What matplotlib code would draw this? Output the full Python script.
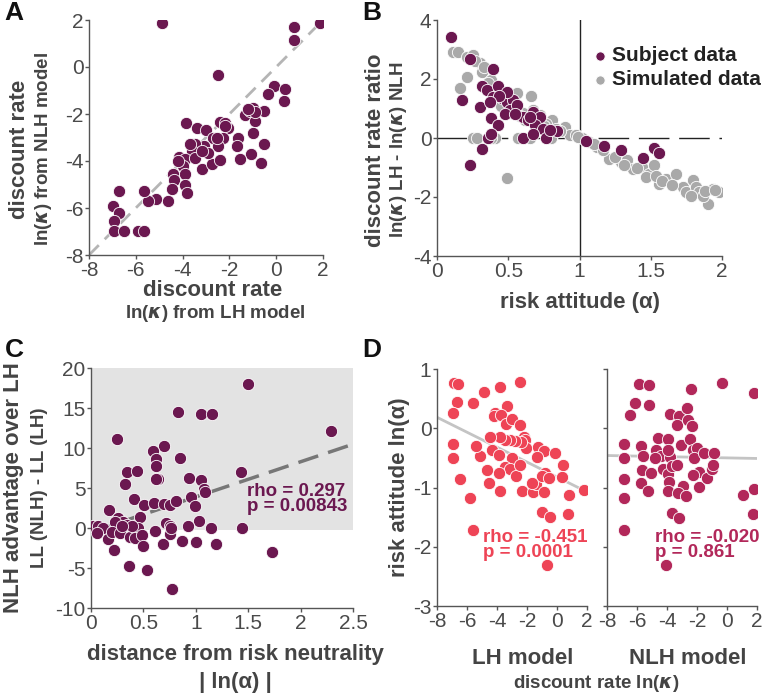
import numpy as np
import matplotlib.pyplot as plt

plt.rcParams['font.family'] = ['Liberation Sans', 'DejaVu Sans']
plt.rcParams['axes.unicode_minus'] = False
plt.rcParams['mathtext.fontset'] = 'dejavusans'

# colours
PURPLE = '#6b1850'
GREY_SIM = '#a9a9a9'
RED = '#ee4456'
CRIMSON = '#b2285a'
TXT = '#444444'

# ---- panel A: ln(k) LH vs ln(k) NLH ----
a_lh = [-4.88, 1.87, 0.76, 0.76, -2.50, -0.09, 0.38, -0.36, 0.32, -0.52, -0.98,
        -1.33, -0.91, -1.12, -1.00, -0.52, -0.66, -1.08, -1.55, -1.62, -1.69,
        -3.85, -3.37, -3.00, -2.69, -2.40, -2.19, -2.05, -2.26, -2.47, -2.52,
        -3.09, -3.47, -3.61, -4.14, -3.90, -3.47, -3.19, -2.76, -2.40, -2.93,
        -3.97, -3.90, -4.40, -4.35, -4.47, -3.90, -3.83, -4.61, -5.15, -5.46,
        -5.64, -6.70, -6.96, -6.70, -6.93, -6.93, -6.49, -5.92, -5.64, -0.91,
        -1.22, -2.19, -3.69, -3.19, -4.18]
a_nlh = [1.86, 1.89, 1.71, 1.14, -0.33, -0.79, -0.93, -1.14, -1.43, -1.89, -1.74,
         -2.03, -2.29, -1.89, -2.79, -3.29, -4.10, -3.71, -3.90, -3.00, -3.36,
         -2.40, -2.61, -2.67, -3.03, -2.36, -2.39, -2.60, -3.00, -3.36, -3.00,
         -3.36, -3.29, -3.57, -3.81, -3.93, -3.86, -4.36, -4.14, -3.97, -3.64,
         -4.21, -4.57, -4.57, -4.79, -5.21, -5.00, -5.36, -5.71, -5.61, -5.71,
         -5.26, -5.29, -5.93, -6.21, -6.57, -6.96, -6.96, -6.96, -6.96, -1.93,
         -1.79, -2.53, -3.29, -3.57, -4.00]

# ---- panel B: risk attitude vs discount rate ratio ----
b_subj_alpha = [0.096, 0.231, 0.394, 0.175, 0.231, 0.317, 0.355, 0.301, 0.378,
                0.425, 0.313, 0.348, 0.425, 0.394, 0.453, 0.492, 0.534, 0.511,
                0.476, 0.488, 0.600, 0.640, 0.674, 0.720, 0.686, 0.745, 0.768,
                0.604, 0.845, 0.674, 1.048, 1.171, 1.293, 1.444, 1.526, 1.557,
                0.436, 0.558, 0.651, 0.790, 0.546, 0.371, 0.378]
b_subj_ratio = [3.44, 2.68, 2.34, 1.30, -0.93, -0.36, 0.00, 1.05, 0.68, 0.43,
                1.76, 1.62, 1.76, 1.39, 1.34, 1.22, 1.30, 0.94, 0.83, 1.56,
                0.71, 0.60, 0.88, 0.71, 0.43, 0.32, 0.00, 0.00, 0.24, 0.15,
                -0.10, -0.27, -0.39, -0.68, -0.34, -0.50, 1.42, 1.11, 0.71,
                0.26, 0.83, 1.22, 0.15]
b_sim_alpha = [0.11, 0.15, 0.21, 0.254, 0.30, 0.313, 0.21, 0.161, 0.378, 0.25,
               0.28, 0.41, 0.38, 0.57, 0.65, 0.80, 0.488, 0.658, 0.674, 0.81,
               0.896, 0.93, 0.978, 1.02, 1.12, 1.21, 1.29, 1.33, 1.375, 1.44,
               1.49, 1.526, 1.56, 1.61, 1.68, 1.724, 1.75, 1.795, 1.82, 1.84,
               1.90, 1.935, 1.98, 1.865, 1.47, 1.246, 1.165, 1.07, 0.838, 0.768,
               0.72, 0.511, 0.558, 0.418, 0.464, 0.27, 0.33, 0.36, 0.60, 0.62,
               0.70, 0.75, 0.86, 0.99, 1.10, 1.31, 1.40, 1.54, 1.58, 1.65,
               1.78, 1.88, 1.95, 0.45, 0.52, 0.58]
b_sim_ratio = [2.93, 2.93, 2.76, 2.81, 2.53, 2.24, 2.07, 1.71, 1.96, 0.00,
               0.00, 0.00, 0.00, 0.00, 0.00, 0.00, -1.36, 1.42, 0.94, 0.60,
               0.37, 0.09, 0.09, 0.00, -0.31, -0.70, -0.82, -0.76, -1.04, -0.99,
               -1.21, -0.93, -1.55, -1.38, -1.21, -1.67, -1.84, -1.44, -1.67,
               -1.84, -2.23, -1.72, -1.84, -1.95, -1.33, -0.65, -0.42, -0.14,
               0.32, 0.49, 0.77, 0.94, 1.51, 1.62, 1.28, 2.60, 2.40, 1.85, 0.85,
               0.60, 0.55, 0.40, 0.25, 0.05, -0.20, -0.90, -1.00, -1.30, -1.45,
               -1.60, -1.95, -1.80, -1.75, 1.10, 0.95, 0.75]

# ---- panel C: |ln(alpha)| vs LL advantage ----
c_dist = [1.497, 2.293, 0.834, 1.048, 1.153, 0.252, 0.700, 0.596, 0.621, 0.621,
          0.850, 0.341, 0.436, 0.643, 0.621, 0.325, 0.936, 1.051, 1.083, 1.090,
          1.430, 0.955, 0.411, 0.994, 0.510, 0.600, 0.700, 0.755, 0.812, 1.035,
          1.440, 1.143, 0.175, 0.261, 0.310, 0.468, 0.452, 0.341, 0.229, 0.022,
          0.070, 0.118, 0.054, 0.160, 0.197, 0.280, 0.373, 0.420, 0.490, 0.500,
          0.611, 0.690, 0.720, 0.755, 0.750, 0.764, 0.924, 0.866, 1.000, 1.190,
          0.223, 0.366, 0.532, 0.777, 1.726, 0.390, 0.293]
c_ll = [18.0, 12.1, 14.5, 14.25, 14.2, 11.1, 10.2, 9.6, 8.6, 7.7, 8.8, 7.0, 7.1,
        6.1, 6.1, 5.5, 6.2, 6.0, 4.9, 4.5, 7.0, 3.9, 3.6, 2.8, 2.9, 3.1, 3.0,
        2.9, 3.4, 0.9, 0.04, 0.04, 2.2, 1.25, 0.8, 1.4, 0.04, 0.4, 0.8, 0.2,
        0.2, 0.0, -0.6, -1.4, -0.5, -0.6, -1.1, -1.3, -0.9, -2.25, -0.4, -2.0,
        0.6, 0.2, -0.8, 0.0, 0.3, -1.6, -1.8, -2.0, -2.8, -4.8, -5.2, -7.6,
        -3.0, 0.2, 0.2]

# ---- panel D: ln(k) vs ln(alpha), LH and NLH models ----
d_lh_k = [-6.89, -6.62, -4.84, -3.82, -2.49, -6.67, -5.60, -6.93, -3.33, -4.16,
          -4.22, -3.73, -3.38, -3.00, -2.44, -2.22, -2.16, -2.04, -2.40, -2.78,
          -3.11, -3.44, -3.78, -4.44, -4.33, -3.89, -3.00, -3.44, -3.11, -2.71,
          -2.44, -3.89, -4.56, -4.67, -5.11, -5.40, -6.93, -6.93, -6.44, -5.82,
          -3.82, -2.33, -1.60, -1.38, -1.29, -0.89, -0.11, -1.33, -0.78, -1.00,
          -0.56, -0.89, -1.67, 0.40, 0.33, 0.78, 1.82, -1.00, -0.49, 0.73,
          -5.60, -0.67]
d_lh_a = [0.77, 0.75, 0.61, 0.69, 0.78, 0.44, 0.42, 0.25, 0.38, 0.26, 0.20,
          0.22, 0.08, 0.15, 0.06, -0.15, -0.19, -0.34, -0.24, -0.22, -0.20,
          -0.19, -0.15, -0.15, -0.37, -0.45, -0.51, -0.65, -0.69, -0.80, -0.62,
          -0.75, -0.93, -0.70, -0.47, -0.30, -0.27, -0.51, -0.85, -1.18, -1.06,
          -1.06, -1.07, -0.94, -0.32, -0.39, -0.41, -0.49, -0.75, -0.81, -0.84,
          -1.08, -0.93, -0.62, -0.83, -1.13, -1.04, -1.42, -1.50, -1.44, -1.72,
          -2.30]
d_nlh_k = [-5.88, -5.21, -2.40, -0.35, 1.80, -6.16, -5.21, -6.50, -3.80, -3.22,
           -2.69, -3.33, -2.62, -2.33, -6.89, -6.89, -6.89, -6.89, -6.89, -5.72,
           -5.61, -5.65, -5.05, -5.72, -5.27, -4.72, -4.61, -4.39, -4.27, -3.94,
           -3.79, -3.94, -3.87, -3.94, -3.65, -3.34, -3.05, -2.94, -3.25, -2.76,
           -2.49, -2.27, -2.02, -2.18, -1.85, -1.85, -1.36, -1.52, -1.00, -0.85,
           -0.96, -2.27, -3.65, -3.20, -4.07, 1.07, 1.80, 1.70, -3.94, -4.83]
d_nlh_a = [0.75, 0.73, 0.66, 0.76, 0.59, 0.42, 0.40, 0.22, 0.24, 0.21, 0.34,
           0.05, 0.14, 0.03, -0.27, -0.50, -0.85, -1.18, -1.72, -0.30, -0.46,
           -0.71, -0.75, -0.92, -1.06, -0.36, -0.16, -0.46, -0.69, -0.18, -0.49,
           -0.78, -0.90, -1.06, -0.64, -0.62, -0.28, -0.97, -1.09, -1.15, -0.18,
           -0.36, -0.34, -0.51, -0.74, -0.99, -0.84, -0.41, -0.69, -0.42, -0.62,
           -0.79, -1.43, -1.51, -2.31, -1.13, -1.03, -1.45, -0.36, -0.51]

W, H = 769, 698
fig = plt.figure(figsize=(W / 100, H / 100), dpi=100)

BIG = 16      # bold axis titles
SMALL = 13.5  # bold sub-titles
TICK = 15


def box(l, r, t, b):
    return [l / W, 1 - b / H, (r - l) / W, (b - t) / H]


def style(ax):
    for s in ['top', 'right']:
        ax.spines[s].set_visible(False)
    for s in ['left', 'bottom']:
        ax.spines[s].set_color('#555555')
        ax.spines[s].set_linewidth(1.0)
    ax.tick_params(direction='out', length=3, width=1, colors='#555555',
                   labelsize=TICK, labelcolor='#4a4a4a', pad=1)


def label(ax, x, y, s, size, rot=0):
    ax.text(x, y, s, transform=ax.transAxes, rotation=rot, ha='center',
            va='center', fontsize=size, fontweight='bold', color=TXT)


dot = dict(s=78, edgecolors='white', linewidths=0.6, zorder=3)

# A
axA = fig.add_axes(box(89, 323, 20, 255))
style(axA)
axA.plot([-8, 1.8], [-8, 1.8], color='#b5b5b5', lw=2, dashes=(5, 3), zorder=1)
axA.scatter(a_lh, a_nlh, color=PURPLE, **dot)
axA.set_xlim(-8, 2)
axA.set_ylim(-8, 2)
axA.set_xticks([-8, -6, -4, -2, 0, 2])
axA.set_yticks([-8, -6, -4, -2, 0, 2])
label(axA, -0.295, 0.45, 'discount rate', BIG, 90)
label(axA, -0.195, 0.45, r'ln($\boldsymbol{\kappa}$) from NLH model', SMALL, 90)
label(axA, 0.53, -0.15, 'discount rate', BIG)
label(axA, 0.54, -0.25, r'ln($\boldsymbol{\kappa}$) from LH model', SMALL)

# B
axB = fig.add_axes(box(437, 722, 20, 256))
style(axB)
axB.axvline(1, color='#222222', lw=1, zorder=1)
axB.axhline(0, color='#222222', lw=1, dashes=(22, 7), zorder=1)
axB.scatter(b_sim_alpha, b_sim_ratio, color=GREY_SIM, label='Simulated data', **dot)
axB.scatter(b_subj_alpha, b_subj_ratio, color=PURPLE, label='Subject data', **dot)
axB.set_xlim(0, 2)
axB.set_ylim(-4, 4)
axB.set_xticks([0, 0.5, 1, 1.5, 2])
axB.set_xticklabels(['0', '0.5', '1', '1.5', '2'])
axB.set_yticks([-4, -2, 0, 2, 4])
h, l = axB.get_legend_handles_labels()
leg = axB.legend(h[::-1], l[::-1], loc='upper left', bbox_to_anchor=(0.51, 0.925),
                 frameon=False, handletextpad=0.1, handlelength=0.9,
                 labelspacing=0.25, borderaxespad=0, markerscale=0.75,
                 prop=dict(size=15, weight='bold'))
for t in leg.get_texts():
    t.set_color('#222222')
label(axB, -0.215, 0.45, 'discount rate ratio', BIG, 90)
label(axB, -0.135, 0.45,
      r'ln($\boldsymbol{\kappa}$) LH - ln($\boldsymbol{\kappa}$) NLH', SMALL, 90)
axB.set_xlabel('risk attitude (α)', fontsize=BIG, fontweight='bold', color=TXT,
               labelpad=8)

# C
axC = fig.add_axes(box(91, 353, 368, 608))
style(axC)
axC.axhspan(-0.3, 20, xmin=0.005, xmax=1, color='#e3e3e3', zorder=0, lw=0)
xs = np.array([0, 2.5])
axC.plot(xs, -0.5 + 4.39 * xs, color='#777777', lw=2.5, dashes=(6, 3), zorder=1)
axC.scatter(c_dist, c_ll, color=PURPLE, **dot)
axC.set_xlim(0, 2.5)
axC.set_ylim(-10, 20)
axC.set_xticks([0, 0.5, 1, 1.5, 2, 2.5])
axC.set_xticklabels(['0', '0.5', '1', '1.5', '2', '2.5'])
axC.set_yticks([-10, -5, 0, 5, 10, 15, 20])
axC.text(1.49, 3.6, 'rho = 0.297\np = 0.00843', color=PURPLE, fontsize=13.5,
         fontweight='bold', va='center', ha='left', linespacing=0.85, zorder=4)
label(axC, -0.295, 0.5, 'NLH advantage over LH', BIG, 90)
label(axC, -0.195, 0.5, 'LL (NLH) - LL (LH)', SMALL, 90)
label(axC, 0.55, -0.195, 'distance from risk neutrality', BIG)
label(axC, 0.55, -0.31, '| ln(α) |', BIG)

# D
axD1 = fig.add_axes(box(437, 587, 369, 606))
axD2 = fig.add_axes(box(607, 757, 369, 606))
for ax in (axD1, axD2):
    style(ax)
    ax.set_xlim(-8, 2)
    ax.set_ylim(-3, 1)
    ax.set_xticks([-8, -6, -4, -2, 0, 2])
    ax.set_yticks([-3, -2, -1, 0, 1])
axD2.set_yticklabels([])

k = np.array([-8, 1.5])
axD1.plot(k, 0.185 - 0.126 * (k + 8), color='#c4c4c4', lw=2, zorder=1)
axD1.scatter(d_lh_k, d_lh_a, color=RED, **dot)
axD1.text(-4.95, -1.97, 'rho = -0.451\np = 0.0001', color=RED, fontsize=13.5,
          fontweight='bold', va='center', ha='left', linespacing=0.85, zorder=4)
k = np.array([-8, 2])
axD2.plot(k, -0.46 - 0.005 * (k + 8), color='#c4c4c4', lw=2, zorder=1)
axD2.scatter(d_nlh_k, d_nlh_a, color=CRIMSON, **dot)
axD2.text(-4.8, -1.97, 'rho = -0.020\np = 0.861', color=CRIMSON, fontsize=13.5,
          fontweight='bold', va='center', ha='left', linespacing=0.85, zorder=4)

label(axD1, -0.253, 0.5, 'risk attitude ln(α)', BIG, 90)
fig.text(523 / W, 1 - 658 / H, 'LH model', ha='center', va='center',
         fontsize=BIG, fontweight='bold', color=TXT)
fig.text(688 / W, 1 - 658 / H, 'NLH model', ha='center', va='center',
         fontsize=BIG, fontweight='bold', color=TXT)
fig.text(596 / W, 1 - 683 / H, r'discount rate ln($\boldsymbol{\kappa}$)', ha='center',
         va='center', fontsize=SMALL, fontweight='bold', color=TXT)

# panel letters
for lab, x, y in [('A', 14, 13), ('B', 372, 13), ('C', 14, 350), ('D', 372, 350)]:
    fig.text(x / W, 1 - y / H, lab, ha='center', va='center', fontsize=19,
             fontweight='bold', color='#111111')

fig.savefig('out.png', dpi=100)
